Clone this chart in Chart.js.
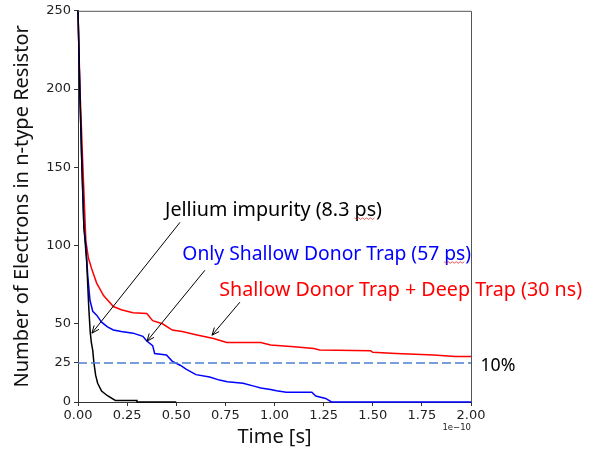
<!DOCTYPE html>
<html>
<head>
<meta charset="utf-8">
<script src="https://cdn.jsdelivr.net/npm/chart.js@4"></script>
<style>
  html, body { margin: 0; padding: 0; background: #fff; }
</style>
</head>
<body>
<canvas id="chart" width="595" height="450"></canvas>
<script>
// time in units of 1e-10 s, electrons remaining
var jelliumTime  = [0, 0.01, 0.02, 0.03, 0.044, 0.055, 0.062, 0.068, 0.075, 0.081, 0.09, 0.1, 0.12, 0.15, 0.19, 0.3, 0.3, 0.5];
var jelliumCount = [250, 195, 150, 112, 90, 60, 45, 38, 33, 25, 17, 12, 7, 4, 1, 1, 0, 0];

var shallowTime  = [0, 0.01, 0.02, 0.03, 0.04, 0.05, 0.061, 0.075, 0.095, 0.12, 0.15, 0.18, 0.22, 0.28, 0.33, 0.35, 0.38, 0.39, 0.45, 0.48, 0.52, 0.55, 0.6, 0.67, 0.72, 0.76, 0.84, 0.9, 0.93, 0.98, 1.01, 1.06, 1.19, 1.21, 1.26, 1.29, 2.0];
var shallowCount = [250, 195, 150, 112, 100, 80, 65, 58, 55.5, 51, 48, 46, 45, 44, 42, 39, 36, 31, 30, 26, 23.5, 21, 17.5, 16, 14, 13, 12, 10, 9, 8, 7.2, 6.2, 6.2, 3.8, 2.3, 0, 0];

var deepTime  = [0, 0.01, 0.025, 0.04, 0.053, 0.07, 0.095, 0.13, 0.18, 0.22, 0.28, 0.35, 0.38, 0.43, 0.48, 0.53, 0.6, 0.69, 0.757, 0.93, 0.98, 1.1, 1.2, 1.23, 1.49, 1.5, 1.62, 1.81, 1.92, 2.0];
var deepCount = [250, 200, 150, 103, 92, 85, 76, 68, 61, 59, 57, 56.5, 52, 50, 46, 45, 43, 40.6, 38, 38, 36.4, 35.3, 34.2, 33.2, 32.7, 31.8, 31, 30, 29, 29];

var thresholdTime  = [0, 2];
var thresholdCount = [25, 25];

var yTicks = [0, 25, 50, 100, 150, 200, 250];

function pts(xs, ys) {
  return xs.map(function (x, i) { return { x: x, y: ys[i] }; });
}

// annotation texts and arrows, placed in data coordinates
var notes = [
  { text: 'Jellium impurity (8.3 ps)', color: '#000000', x: 0.443, y: 118.6, width: 217, squiggle: 'ps' },
  { text: 'Only Shallow Donor Trap (57 ps)', color: '#0000ff', x: 0.531, y: 90.6, width: 289, squiggle: 'ps' },
  { text: 'Shallow Donor Trap + Deep Trap (30 ns)', color: '#ff0000', x: 0.719, y: 67.6, width: 363 },
  { text: '10%', color: '#000000', x: 2.048, y: 20.0, width: 35 }
];
var arrows = [
  { x1: 0.519, y1: 114.8, x2: 0.071, y2: 44 },
  { x1: 0.646, y1: 84.2, x2: 0.351, y2: 38.9 },
  { x1: 0.824, y1: 63.8, x2: 0.682, y2: 42.7 }
];

var notePlugin = {
  id: 'notes',
  afterDatasetsDraw: function (chart) {
    var ctx = chart.ctx;
    var xs = chart.scales.x, ys = chart.scales.y;
    var a = chart.chartArea;
    ctx.save();

    // top and right spines
    ctx.strokeStyle = '#555';
    ctx.lineWidth = 1;
    ctx.beginPath();
    ctx.moveTo(a.left, a.top + 0.5);
    ctx.lineTo(a.right + 0.5, a.top + 0.5);
    ctx.lineTo(a.right + 0.5, a.bottom);
    ctx.stroke();

    // arrows
    ctx.strokeStyle = '#000';
    ctx.lineWidth = 1;
    arrows.forEach(function (ar) {
      var x1 = xs.getPixelForValue(ar.x1), y1 = ys.getPixelForValue(ar.y1);
      var x2 = xs.getPixelForValue(ar.x2), y2 = ys.getPixelForValue(ar.y2);
      var ang = Math.atan2(y2 - y1, x2 - x1);
      ctx.beginPath();
      ctx.moveTo(x1, y1);
      ctx.lineTo(x2, y2);
      ctx.moveTo(x2 - 8 * Math.cos(ang - 0.4), y2 - 8 * Math.sin(ang - 0.4));
      ctx.lineTo(x2, y2);
      ctx.lineTo(x2 - 8 * Math.cos(ang + 0.4), y2 - 8 * Math.sin(ang + 0.4));
      ctx.stroke();
    });

    // texts
    ctx.textBaseline = 'alphabetic';
    ctx.textAlign = 'left';
    notes.forEach(function (n) {
      ctx.font = '20px "Noto Sans"';
      var size = 20 * n.width / ctx.measureText(n.text).width;
      ctx.font = size.toFixed(2) + 'px "Noto Sans"';
      var px = xs.getPixelForValue(n.x), py = ys.getPixelForValue(n.y);
      ctx.fillStyle = n.color;
      ctx.fillText(n.text, px, py);
      if (n.squiggle) {
        var idx = n.text.lastIndexOf(n.squiggle);
        var sx = px + ctx.measureText(n.text.slice(0, idx)).width;
        var sw = ctx.measureText(n.squiggle).width;
        ctx.strokeStyle = '#e03030';
        ctx.lineWidth = 0.8;
        ctx.beginPath();
        for (var k = 0; k <= sw; k += 2) {
          var yy = py + 1.5 + ((k / 2) % 2 === 0 ? 0 : 1.5);
          if (k === 0) ctx.moveTo(sx + k, yy); else ctx.lineTo(sx + k, yy);
        }
        ctx.stroke();
      }
    });

    // offset text of the x axis
    ctx.fillStyle = '#222';
    ctx.font = '8.5px "DejaVu Sans"';
    ctx.textAlign = 'right';
    ctx.textBaseline = 'middle';
    ctx.fillText('1e\u221210', a.right, 428);
    ctx.restore();
  }
};

var tickFont = { family: '"DejaVu Sans"', size: 13 };

new Chart(document.getElementById('chart').getContext('2d'), {
  type: 'line',
  data: {
    datasets: [
      {
        data: pts(thresholdTime, thresholdCount),
        borderColor: '#4a7fd4', borderWidth: 1.5, borderDash: [9, 4],
        pointRadius: 0, fill: false
      },
      {
        data: pts(jelliumTime, jelliumCount),
        borderColor: '#000000', borderWidth: 1.5, pointRadius: 0, fill: false, tension: 0
      },
      {
        data: pts(shallowTime, shallowCount),
        borderColor: '#0000ff', borderWidth: 1.5, pointRadius: 0, fill: false, tension: 0
      },
      {
        data: pts(deepTime, deepCount),
        borderColor: '#ff0000', borderWidth: 1.5, pointRadius: 0, fill: false, tension: 0
      }
    ]
  },
  options: {
    responsive: false,
    animation: false,
    devicePixelRatio: 1,
    clip: 3,
    layout: { padding: { top: 10, right: 124, bottom: 0, left: 0 } },
    plugins: { legend: { display: false }, tooltip: { enabled: false } },
    scales: {
      x: {
        type: 'linear', min: 0, max: 2,
        afterFit: function (s) { s.height = 48; },
        ticks: {
          stepSize: 0.25, autoSkip: false, maxRotation: 0, padding: 2,
          color: '#222', font: tickFont,
          callback: function (v) { return v.toFixed(2); }
        },
        grid: { drawOnChartArea: false, tickLength: 4, color: '#333' },
        border: { color: '#333', width: 1 },
        title: {
          display: true, text: 'Time [s]', color: '#111',
          font: { family: '"Noto Sans"', size: 20 },
          padding: { top: 0, bottom: 1 }
        }
      },
      y: {
        min: 0, max: 250,
        afterFit: function (s) { s.width = 78; },
        afterBuildTicks: function (s) {
          s.ticks = yTicks.map(function (v) { return { value: v }; });
        },
        ticks: { color: '#222', font: tickFont, padding: 3 },
        grid: { drawOnChartArea: false, tickLength: 4, color: '#333' },
        border: { color: '#333', width: 1 },
        title: {
          display: true, text: 'Number of Electrons in n-type Resistor', color: '#111',
          font: { family: '"Noto Sans"', size: 20 },
          padding: { top: 10, bottom: 0 }
        }
      }
    }
  },
  plugins: [notePlugin]
});
</script>
</body>
</html>
